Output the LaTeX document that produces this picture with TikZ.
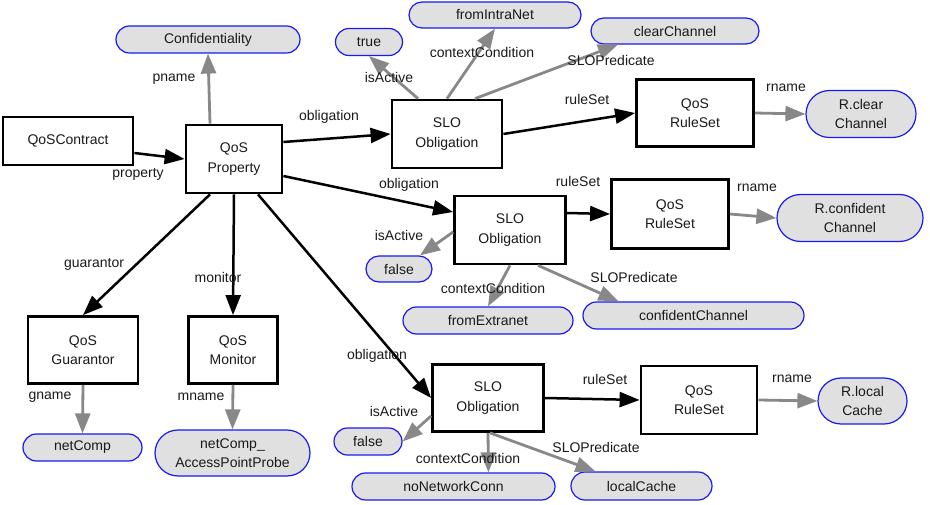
\documentclass[tikz,border=0pt]{standalone}
\usepackage{fontspec}
\setmainfont{Liberation Sans}
\usetikzlibrary{arrows.meta,shapes.misc}
\definecolor{edgegray}{RGB}{136,136,136}
\definecolor{pillfill}{RGB}{224,224,224}
\definecolor{pillline}{RGB}{25,25,245}
\definecolor{inkcol}{RGB}{25,25,25}

\begin{document}
\begin{tikzpicture}[x=1pt,y=-1pt,
  every node/.style={font=\fontsize{14}{19.5}\selectfont, align=center, inner sep=0pt, text=inkcol},
  sz/.style 2 args={minimum width=#1pt, minimum height=#2pt},
  cls/.style={draw=black, line width=2.8pt, rectangle, fill=white},
  val/.style={draw=pillline, line width=1.2pt, fill=pillfill, rounded rectangle},
  rel/.style={line width=2.5pt, draw=black, -{Triangle[length=20pt,width=15pt]}},
  attr/.style={line width=2.8pt, draw=edgegray, -{Triangle[length=20pt,width=15pt]}}]
\useasboundingbox (0,0) rectangle (930,505);

% classes
\node[cls, sz={130}{48}] (contract) at (68,141) {QoSContract};
\node[cls, sz={96}{68}]  (prop)  at (234,159) {QoS\\Property};
\node[cls, sz={110}{68}] (slo1)  at (447,134) {SLO\\Obligation};
\node[cls, sz={117}{67}] (rs1)   at (695,113) {QoS\\RuleSet};
\node[cls, sz={111}{68}] (slo2)  at (510,230) {SLO\\Obligation};
\node[cls, sz={117}{69}] (rs2)   at (670,214) {QoS\\RuleSet};
\node[cls, sz={110}{67}] (guar)  at (83,350)  {QoS\\Guarantor};
\node[cls, sz={89}{67}]  (mon)   at (233,350) {QoS\\Monitor};
\node[cls, sz={111}{67}] (slo3)  at (488,398) {SLO\\Obligation};
\node[cls, sz={116}{68}] (rs3)   at (699,400) {QoS\\RuleSet};

% values
\node[val, sz={184}{27}] (conf)   at (208,39.5) {Confidentiality};
\node[val, sz={67}{27}]  (true1)  at (369,42)  {true};
\node[val, sz={172}{26}] (intra)  at (495,15)  {fromIntraNet};
\node[val, sz={168}{26}] (clear)  at (675,31)  {clearChannel};
\node[val, sz={110}{47}] (rclear) at (861,114) {R.clear\\Channel};
\node[val, sz={66}{26}]  (false2) at (399,269) {false};
\node[val, sz={170}{27}] (extra)  at (488,320.5) {fromExtranet};
\node[val, sz={221}{27}] (confch) at (693.5,315.5) {confidentChannel};
\node[val, sz={146}{47}] (rconf)  at (850,218) {R.confident\\Channel};
\node[val, sz={119}{27}] (netc)   at (82.5,447.5) {netComp};
\node[val, sz={155}{46}] (probe)  at (232.5,453) {netComp\_\\AccessPointProbe};
\node[val, sz={68}{27}]  (false3) at (368,441.5) {false};
\node[val, sz={203}{27}] (nonet)  at (453.5,486.5) {noNetworkConn};
\node[val, sz={141}{28}] (local)  at (641.5,486) {localCache};
\node[val, sz={89}{46}]  (rlocal) at (862.5,401) {R.local\\Cache};

% structural relations
\draw[rel] ([yshift=-12pt]contract.east) -- (prop.west) node at (138,174) {property};
\draw[rel] ([yshift=17pt]prop.east) -- (slo1.west) node at (329,117) {obligation};
\draw[rel] ([yshift=-17pt]prop.east) -- ([yshift=18pt]slo2.west) node at (409,185) {obligation};
\draw[rel] ([xshift=24pt]prop.south) -- (slo3.west) node at (377,356) {obligation};
\draw[rel] ([xshift=-24pt]prop.south) -- (guar.north) node at (94,264) {guarantor};
\draw[rel] (prop.south) -- (mon.north) node at (218,277) {monitor};
\draw[rel] (slo1.east) -- (rs1.west) node at (587,99) {ruleSet};
\draw[rel] ([yshift=17pt]slo2.east) -- (rs2.west) node at (578,181) {ruleSet};
\draw[rel] (slo3.east) -- (rs3.west) node at (605,379) {ruleSet};

% attribute values
\draw[attr] ([xshift=-24pt]prop.north) -- (conf.south) node at (174,79) {pname};
\draw[attr] ([xshift=-29pt]slo1.north) -- (true1.south) node at (389,77) {isActive};
\draw[attr] (slo1.north) -- (intra.south) node at (482,52) {contextCondition};
\draw[attr] ([xshift=28pt]slo1.north) -- ([xshift=-57pt]clear.south) node at (611,60) {SLOPredicate};
\draw[attr] (rs1.east) -- (rclear.west) node at (786,88) {rname};
\draw[attr] ([yshift=-2pt]slo2.west) -- ([xshift=21pt]false2.north) node at (399,235) {isActive};
\draw[attr] (slo2.south) -- (extra.north) node at (493,288) {contextCondition};
\draw[attr] ([xshift=28pt]slo2.south) -- ([xshift=-75pt]confch.north) node at (634,277) {SLOPredicate};
\draw[attr] (rs2.east) -- (rconf.west) node at (757,188) {rname};
\draw[attr] (guar.south) -- (netc.north) node at (50,397) {gname};
\draw[attr] (mon.south) -- (probe.north) node at (201,397) {mname};
\draw[attr] ([yshift=-18pt]slo3.west) -- (false3.east) node at (394,411) {isActive};
\draw[attr] (slo3.south) -- ([xshift=35pt]nonet.north) node at (468,458) {contextCondition};
\draw[attr] ([xshift=2pt]slo3.south) -- ([xshift=-46pt]local.north) node at (596,447) {SLOPredicate};
\draw[attr] (rs3.east) -- (rlocal.west) node at (792,379) {rname};
\end{tikzpicture}
\end{document}
